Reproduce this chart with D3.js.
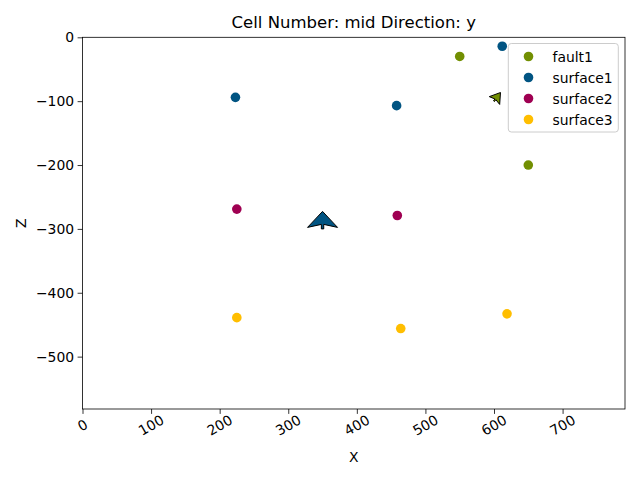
<!DOCTYPE html>
<html><head><meta charset="utf-8">
<script src="https://cdn.jsdelivr.net/npm/d3@7"></script>
<style>body{margin:0;background:#fff}text{font-family:"DejaVu Sans",sans-serif}</style>
</head><body><svg id="c" width="640" height="480"></svg>
<script>
const title = "Cell Number: mid Direction: y";
const seriesNames = ["fault1","surface1","surface2","surface3"];
const seriesColors = ["#728f02","#015482","#9f0052","#ffbe00"];
const fault1X = [550, 650];
const fault1Z = [-30, -200];
const surface1X = [223, 458, 612];
const surface1Z = [-94, -107, -14];
const surface2X = [225, 459];
const surface2Z = [-269, -279];
const surface3X = [225, 464, 619];
const surface3Z = [-439, -456, -433];
const orientSeries = ["surface1","fault1"];
const orientX = [350, 600];
const orientZ = [-300, -100];
const orientGx = [0, 0.6];
const orientGz = [1, 0.8];
const xTicks = [0,100,200,300,400,500,600,700];
const zTicks = [0,-100,-200,-300,-400,-500];
const xDomain = [0, 791];
const zDomain = [-582, 0];

const svg = d3.select("#c");
const L=82.5, R=625, T=37.3, B=409;
const x = d3.scaleLinear().domain(xDomain).range([L,R]);
const y = d3.scaleLinear().domain(zDomain).range([B,T]);

svg.append("text").attr("x",(L+R)/2).attr("y",28).attr("text-anchor","middle")
  .attr("font-size",16.5).text(title);

const xa = svg.append("g").attr("transform",`translate(0,${B})`)
  .call(d3.axisBottom(x).tickValues(xTicks).tickSize(4.9).tickPadding(3).tickFormat(d3.format("d")));
xa.selectAll("text").attr("font-size",13.9).attr("fill","#000")
  .attr("text-anchor","middle").attr("dy",0)
  .attr("transform","translate(0,17) rotate(-30)")
  .attr("y",0).attr("dominant-baseline","middle");
const ya = svg.append("g").attr("transform",`translate(${L},0)`)
  .call(d3.axisLeft(y).tickValues(zTicks).tickSize(4.9).tickPadding(3.5)
  .tickFormat(d=>d<0?"\u2212"+Math.abs(d):String(d)));
ya.selectAll("text").attr("font-size",13.9).attr("fill","#000");
[xa,ya].forEach(a=>{a.select(".domain").remove();a.selectAll("line").attr("stroke","#000").attr("stroke-width",0.8);});

svg.append("text").attr("x",(L+R)/2).attr("y",462).attr("text-anchor","middle").attr("font-size",13.9).text("X");
svg.append("text").attr("transform",`translate(26,${(T+B)/2}) rotate(-90)`).attr("text-anchor","middle").attr("font-size",13.9).text("Z");

svg.append("defs").append("clipPath").attr("id","cp").append("rect")
  .attr("x",L).attr("y",T).attr("width",R-L).attr("height",B-T);
const plot = svg.append("g").attr("clip-path","url(#cp)");

const data = [[fault1X,fault1Z],[surface1X,surface1Z],[surface2X,surface2Z],[surface3X,surface3Z]];
data.forEach((s,i)=>{
  plot.selectAll(null).data(s[0].map((v,j)=>[v,s[1][j]])).enter().append("circle")
    .attr("cx",d=>x(d[0])).attr("cy",d=>y(d[1])).attr("r",4.8).attr("fill",seriesColors[i]);
});

// orientations (arrows, tail at the point)
const sizes = [{len:16,half:15,notch:3,stem:1.5,sw:1.2},{len:10,half:6.5,notch:1.5,stem:0.8,sw:0.6}];
orientX.forEach((ox,i)=>{
  const px=x(ox), py=y(orientZ[i]);
  let dx=orientGx[i], dy=-orientGz[i];
  const n=Math.hypot(dx,dy); dx/=n; dy/=n;
  const s=sizes[i]; const qx=-dy, qy=dx;
  const base=[px+dx*s.stem, py+dy*s.stem];
  const tip=[base[0]+dx*s.len, base[1]+dy*s.len];
  const c1=[base[0]+qx*s.half, base[1]+qy*s.half];
  const c2=[base[0]-qx*s.half, base[1]-qy*s.half];
  const nt=[base[0]+dx*s.notch, base[1]+dy*s.notch];
  const col = seriesColors[seriesNames.indexOf(orientSeries[i])];
  const pts=[tip,c1,[nt[0]+qx*s.sw,nt[1]+qy*s.sw],[px+qx*s.sw,py+qy*s.sw],[px-qx*s.sw,py-qy*s.sw],[nt[0]-qx*s.sw,nt[1]-qy*s.sw],c2];
  plot.append("path").attr("d","M"+pts.map(p=>p.join(",")).join("L")+"Z")
    .attr("fill",col).attr("stroke","#000").attr("stroke-width",1).attr("stroke-linejoin","miter");
});

// frame
svg.append("rect").attr("x",L).attr("y",T).attr("width",R-L).attr("height",B-T)
  .attr("fill","none").attr("stroke","#000").attr("stroke-width",0.8);

// legend
const lg = svg.append("g");
lg.append("rect").attr("x",508.3).attr("y",43.5).attr("width",110).attr("height",88.5).attr("rx",3)
  .attr("fill","#fff").attr("fill-opacity",0.8).attr("stroke","#ccc").attr("stroke-width",1);
seriesNames.forEach((nm,i)=>{
  const yy = 56.5 + i*21;
  lg.append("circle").attr("cx",528.5).attr("cy",yy).attr("r",4.8).attr("fill",seriesColors[i]);
  lg.append("text").attr("x",552.5).attr("y",yy+5).attr("font-size",13.9).text(nm);
});
</script></body></html>
